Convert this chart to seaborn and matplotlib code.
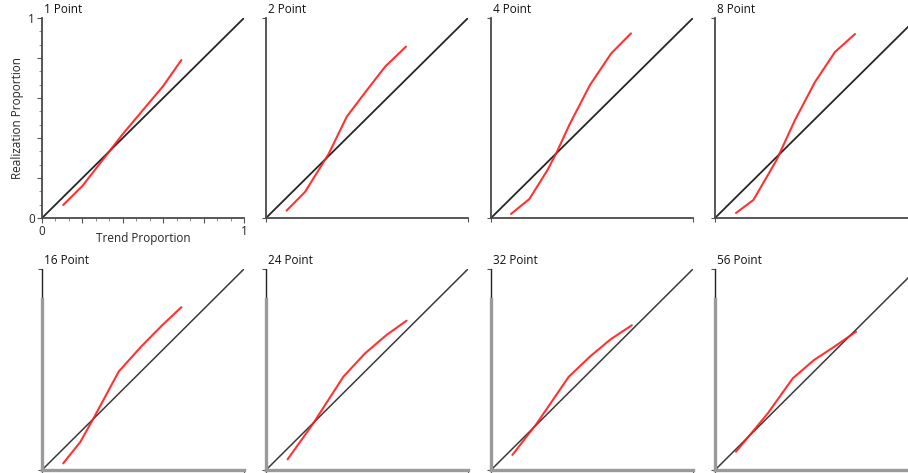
import matplotlib
matplotlib.use("Agg")
import matplotlib.pyplot as plt
import numpy as np
import pandas as pd
import seaborn as sns

sns.set_style("white")
plt.rcParams["font.family"] = ["Open Sans", "DejaVu Sans"]

# Panel titles (number of points per trend)
titles = ["1 Point", "2 Point", "4 Point", "8 Point",
          "16 Point", "24 Point", "32 Point", "56 Point"]

# Trend proportion (x) and realization proportion (y) per panel
trend_1 = [0.105, 0.20, 0.30, 0.40, 0.50, 0.60, 0.69]
real_1 = [0.065, 0.16, 0.29, 0.42, 0.54, 0.66, 0.79]

trend_2 = [0.102, 0.193, 0.31, 0.40, 0.50, 0.59, 0.693]
real_2 = [0.037, 0.13, 0.32, 0.507, 0.64, 0.757, 0.857]

trend_4 = [0.099, 0.19, 0.28, 0.326, 0.39, 0.49, 0.595, 0.693]
real_4 = [0.02, 0.095, 0.24, 0.33, 0.47, 0.665, 0.823, 0.923]

trend_8 = [0.104, 0.19, 0.305, 0.396, 0.495, 0.594, 0.693]
real_8 = [0.025, 0.09, 0.29, 0.49, 0.68, 0.83, 0.92]

trend_16 = [0.105, 0.19, 0.255, 0.38, 0.49, 0.595, 0.69]
real_16 = [0.033, 0.14, 0.257, 0.49, 0.613, 0.72, 0.81]

trend_24 = [0.107, 0.234, 0.383, 0.49, 0.597, 0.696]
real_24 = [0.053, 0.232, 0.464, 0.58, 0.672, 0.743]

trend_32 = [0.106, 0.227, 0.385, 0.493, 0.592, 0.697]
real_32 = [0.075, 0.232, 0.464, 0.567, 0.65, 0.72]

trend_56 = [0.104, 0.26, 0.385, 0.49, 0.59, 0.698]
real_56 = [0.091, 0.28, 0.456, 0.547, 0.613, 0.688]

trends = [trend_1, trend_2, trend_4, trend_8, trend_16, trend_24, trend_32, trend_56]
reals = [real_1, real_2, real_4, real_8, real_16, real_24, real_32, real_56]

# identity reference line
diag = [0.0, 1.0]

W, H = 908, 473
fig = plt.figure(figsize=(W / 100, H / 100), dpi=100)

col_left = [42, 266, 491, 715]
row_bottom = [218, 470]
row_top = [18, 269]
ax_w = 202

RED = "#ff1c1c"
FS = 8.5

for i, (title, tx, ry) in enumerate(zip(titles, trends, reals)):
    r, c = divmod(i, 4)
    left = col_left[c] / W
    bottom = (H - row_bottom[r]) / H
    height = (row_bottom[r] - row_top[r]) / H
    ax = fig.add_axes([left, bottom, ax_w / W, height])

    dfd = pd.DataFrame({"x": diag, "y": diag})
    sns.lineplot(data=dfd, x="x", y="y", ax=ax, color="#262626" if r == 0 else "#3a3a3a",
                 lw=1.3 if r == 0 else 1.1, sort=False)
    df = pd.DataFrame({"x": tx, "y": ry})
    sns.lineplot(data=df, x="x", y="y", ax=ax, color=RED, lw=1.5, alpha=0.9,
                 sort=False)

    ax.set_xlim(0, 1)
    ax.set_ylim(0, 1)
    ax.set_xlabel("")
    ax.set_ylabel("")
    for s in ("top", "right"):
        ax.spines[s].set_visible(False)

    if r == 0:
        for s in ("left", "bottom"):
            ax.spines[s].set_color("#4a4a4a")
            ax.spines[s].set_linewidth(1.3)
    else:
        ax.spines["bottom"].set_color("#9a9a9a")
        ax.spines["bottom"].set_linewidth(2.4)
        ax.spines["left"].set_color("#9a9a9a")
        ax.spines["left"].set_linewidth(2.4)
        ax.spines["left"].set_bounds(0, 0.85)
        ax.axvline(0, ymin=0.85, ymax=1.0, color="#222222", lw=1.0, clip_on=False)

    ax.text(0.01, 1.01, title, transform=ax.transAxes, fontsize=FS,
            ha="left", va="bottom", color="#111111")

    if i == 0:
        major = [0, 0.2, 0.4, 0.6, 0.8, 1]
        minor = [k / 15 for k in range(1, 15) if k % 3 != 0]
        labels = ["0", "", "", "", "", "1"]
        ax.set_xticks(major)
        ax.set_xticklabels(labels)
        ax.set_yticks(major)
        ax.set_yticklabels(labels)
        ax.set_xticks(minor, minor=True)
        ax.set_yticks(minor, minor=True)
        ax.tick_params(which="major", direction="out", length=3.5, width=0.8,
                       color="#555555", labelsize=FS, pad=1.5,
                       bottom=True, left=True)
        ax.tick_params(which="minor", direction="out", length=2, width=0.6,
                       color="#777777", bottom=True, left=True)
        ax.set_xlabel("Trend Proportion", fontsize=FS, labelpad=-4)
        ax.set_ylabel("Realization Proportion", fontsize=FS, labelpad=3)
    else:
        ax.set_xticks([0, 1])
        ax.set_yticks([0, 1])
        ax.set_xticklabels([])
        ax.set_yticklabels([])
        ax.tick_params(direction="out", length=3, width=0.8, color="#555555",
                       bottom=True, left=True)

fig.savefig("out.png", dpi=100)
